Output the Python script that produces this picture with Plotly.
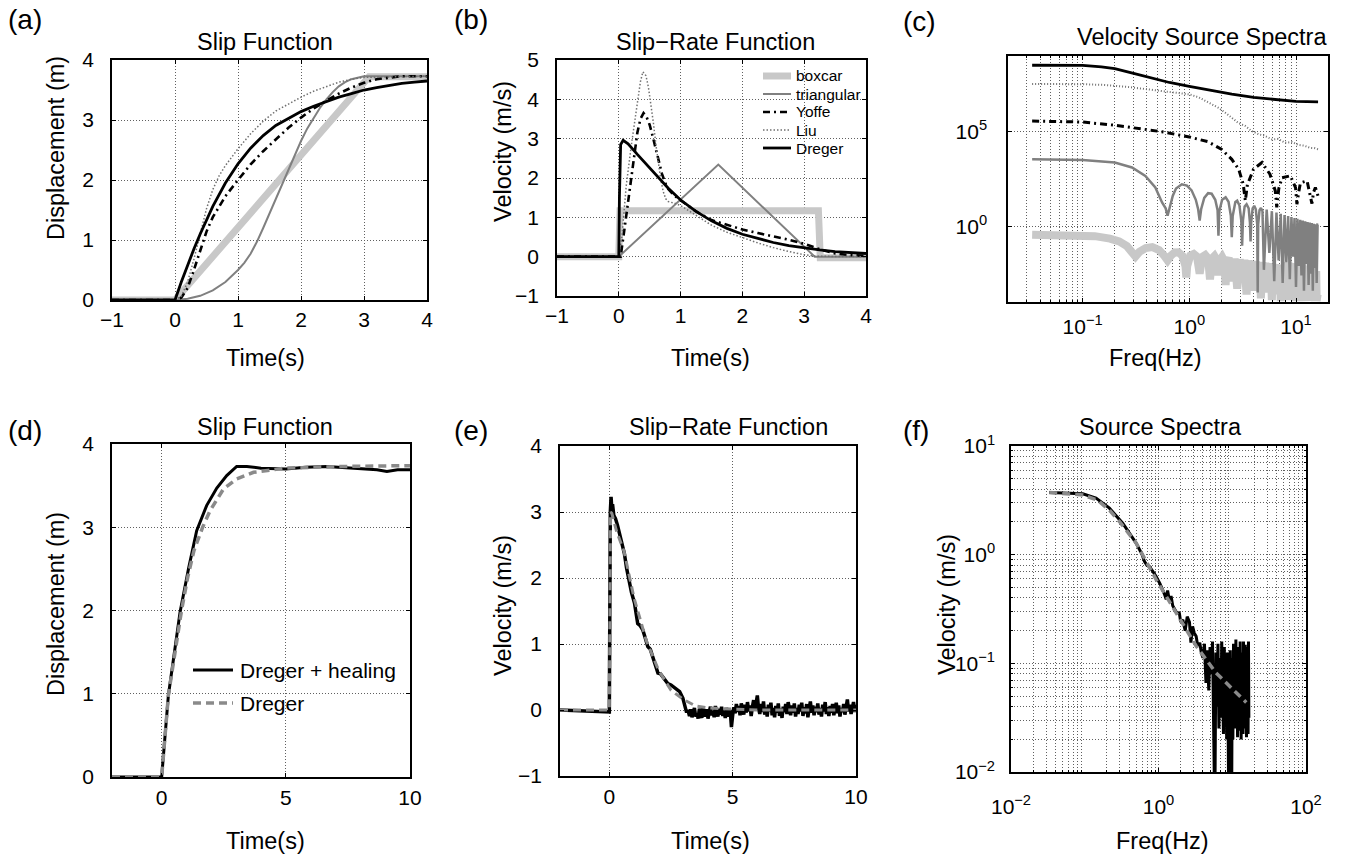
import numpy as np
import plotly.graph_objects as go

W, H = 1345, 859
FONT = "Liberation Sans, Arial, Helvetica, sans-serif"

# ---------------- (a) slip functions ----------------
a_box_t = [-1, 0, 3.08, 4]
a_box_y = [0, 0, 3.72, 3.72]
a_tri_t = [-1, 0, 0.2, 0.4, 0.6, 0.8, 1.0, 1.1, 1.2, 1.3, 1.4, 1.5, 1.6, 1.7, 1.8, 1.9, 2.0, 2.1, 2.2, 2.3, 2.4, 2.5, 2.6, 2.7, 2.8, 2.9, 3.0, 3.1, 4]
a_tri_y = [0, 0, 0.02, 0.07, 0.16, 0.30, 0.50, 0.62, 0.77, 0.97, 1.20, 1.44, 1.69, 1.94, 2.19, 2.43, 2.65, 2.86, 3.04, 3.20, 3.34, 3.46, 3.56, 3.63, 3.68, 3.71, 3.73, 3.73, 3.73]
a_yof_t = [-1, 0, 0.1, 0.2, 0.3, 0.4, 0.5, 0.6, 0.8, 1.0, 1.2, 1.4, 1.6, 1.8, 2.0, 2.2, 2.4, 2.6, 2.8, 3.0, 3.2, 3.4, 3.6, 4]
a_yof_y = [0, 0, 0.04, 0.2, 0.5, 0.84, 1.14, 1.38, 1.73, 2.0, 2.26, 2.48, 2.68, 2.87, 3.04, 3.19, 3.32, 3.44, 3.54, 3.62, 3.68, 3.71, 3.73, 3.73]
a_liu_t = [-1, 0, 0.1, 0.2, 0.3, 0.4, 0.5, 0.6, 0.7, 0.8, 1.0, 1.2, 1.4, 1.6, 1.8, 2.0, 2.2, 2.4, 2.6, 2.8, 3.0, 4]
a_liu_y = [0, 0, 0.06, 0.3, 0.68, 1.1, 1.52, 1.84, 2.07, 2.24, 2.52, 2.77, 2.98, 3.15, 3.27, 3.38, 3.48, 3.56, 3.63, 3.68, 3.71, 3.73]
a_dre_t = [-1, 0, 0.1, 0.2, 0.3, 0.4, 0.5, 0.6, 0.8, 1.0, 1.2, 1.4, 1.6, 1.8, 2.0, 2.2, 2.4, 2.6, 2.8, 3.0, 3.2, 3.4, 3.6, 3.8, 4.0]
a_dre_y = [0, 0, 0.3, 0.58, 0.85, 1.1, 1.34, 1.56, 1.95, 2.27, 2.53, 2.74, 2.91, 3.03, 3.14, 3.23, 3.31, 3.38, 3.44, 3.5, 3.54, 3.58, 3.61, 3.63, 3.65]

# ---------------- (b) slip-rate functions ----------------
b_names = ["boxcar", "triangular", "Yoffe", "Liu", "Dreger"]
b_box_t = [-1, 0, 0.02, 3.23, 3.26, 4]
b_box_y = [0, 0, 1.17, 1.17, -0.03, -0.03]
b_tri_t = [-1, 0, 1.61, 3.17, 4]
b_tri_y = [0, 0, 2.34, 0, 0]
b_yof_t = [-1, 0, 0.03, 0.1, 0.15, 0.2, 0.25, 0.3, 0.35, 0.4, 0.45, 0.5, 0.55, 0.6, 0.65, 0.7, 0.75, 0.8, 0.9, 1.0, 1.25, 1.5, 1.75, 2.0, 2.25, 2.5, 2.75, 3.0, 3.25, 3.5, 3.75, 4]
b_yof_y = [0, 0, 0, 0.8, 1.4, 2.0, 2.6, 3.15, 3.5, 3.65, 3.55, 3.35, 3.05, 2.75, 2.4, 2.1, 1.88, 1.72, 1.55, 1.43, 1.15, 0.93, 0.8, 0.69, 0.6, 0.52, 0.43, 0.33, 0.19, 0.08, 0.04, 0.02]
b_liu_t = [-1, 0, 0.05, 0.12, 0.2, 0.3, 0.35, 0.39, 0.44, 0.48, 0.52, 0.56, 0.6, 0.64, 0.68, 0.72, 0.76, 0.8, 0.9, 1.0, 1.25, 1.5, 1.75, 2.0, 2.25, 2.5, 2.75, 3.0, 3.2, 4]
b_liu_y = [0, 0, 0.5, 1.8, 2.8, 3.95, 4.45, 4.7, 4.6, 4.3, 3.9, 3.4, 2.85, 2.35, 1.95, 1.65, 1.47, 1.4, 1.36, 1.3, 1.05, 0.8, 0.62, 0.48, 0.35, 0.23, 0.13, 0.05, 0.01, 0]
b_dre_t = [-1, 0, 0.01, 0.03, 0.07, 0.15, 0.3, 0.45, 0.6, 0.8, 1.0, 1.25, 1.5, 1.75, 2.0, 2.25, 2.5, 2.75, 3.0, 3.25, 3.5, 3.75, 4.0]
b_dre_y = [0, 0, 1.5, 2.85, 2.96, 2.87, 2.6, 2.34, 2.1, 1.74, 1.44, 1.15, 0.91, 0.72, 0.57, 0.46, 0.36, 0.28, 0.22, 0.17, 0.13, 0.1, 0.08]

# ---------------- (c) velocity source spectra (log10 of amplitude) ----------------
c_dre_f = [0.0336, 0.06, 0.1, 0.15, 0.2, 0.3, 0.45, 0.65, 1.0, 1.6, 2.5, 4, 6.5, 10, 16.1]
c_dre_log = [8.51, 8.51, 8.50, 8.43, 8.33, 8.08, 7.83, 7.60, 7.40, 7.17, 6.98, 6.81, 6.68, 6.60, 6.58]
c_liu_f = [0.0336, 0.06, 0.1, 0.16, 0.25, 0.42, 0.6, 0.8, 1.0, 1.22, 1.5, 1.88, 2.2, 2.5, 2.9, 3.35, 3.8, 4.47, 5.0, 5.96, 6.8, 7.9, 9.2, 10.5, 12, 13.5, 15, 16.1]
c_liu_log = [7.52, 7.52, 7.51, 7.47, 7.38, 7.23, 7.13, 7.05, 6.97, 6.82, 6.56, 6.26, 5.98, 5.74, 5.45, 5.30, 5.05, 4.86, 4.80, 4.59, 4.62, 4.42, 4.45, 4.30, 4.26, 4.15, 4.13, 4.07]
c_yof_f = [0.0336, 0.1, 0.2, 0.34, 0.55, 1.0, 1.5, 2.0, 2.5, 2.9, 3.2, 3.35, 3.5, 4.0, 4.8, 5.7, 6.4, 6.6, 6.9, 7.4, 8.85, 9.9, 10.2, 10.6, 11, 12.7, 13.6, 14.1, 14.6, 15.2, 16.1]
c_yof_log = [5.56, 5.51, 5.34, 5.15, 5.0, 4.72, 4.47, 4.07, 3.54, 3.02, 2.23, 1.35, 2.2, 3.02, 3.37, 2.75, 1.87, 1.0, 2.0, 2.57, 2.67, 2.05, 1.17, 1.8, 2.3, 2.4, 1.72, 1.2, 1.8, 2.05, 1.6]
c_tri_f = [0.0336, 0.1, 0.2, 0.29, 0.387, 0.48, 0.555, 0.6, 0.625, 0.65, 0.7, 0.75, 0.85, 0.95, 1.05, 1.15, 1.21, 1.25, 1.29, 1.38, 1.5, 1.62, 1.75, 1.84, 1.875, 1.91, 2.03, 2.19, 2.33, 2.45, 2.5, 2.55, 2.7, 2.81, 2.95, 3.07, 3.125, 3.18, 3.3, 3.44, 3.6, 3.7, 3.75, 3.8, 3.92, 4.06, 4.2, 4.33, 4.375, 4.42, 4.55, 4.69, 4.85, 5.0,
           5.31, 5.625, 5.94, 6.25, 6.56, 6.875, 7.19, 7.5, 7.81, 8.125, 8.44, 8.75, 9.06, 9.375, 9.69, 10.0, 10.31, 10.625, 10.94, 11.25, 11.56, 11.875, 12.19, 12.5, 12.81, 13.125, 13.44, 13.75, 14.06, 14.375, 14.69, 15.0, 15.31, 15.625, 15.94, 16.1]
c_tri_log = [3.54, 3.50, 3.37, 3.11, 2.66, 2.05, 1.26, 0.95, 0.56, 0.95, 1.62, 2.0, 2.22, 2.15, 1.9, 1.4, 0.9, 0.3, 0.9, 1.5, 1.75, 1.72, 1.4, 0.85, -0.5, 0.8, 1.4, 1.53, 1.3, 0.55, -0.58, 0.55, 1.28, 1.35, 1.1, 0.3, -1.02, 0.3, 1.05, 1.17, 0.95, 0.2, -0.8, 0.2, 0.95, 1.08, 0.9, 0.1, -3.5, 0.1, 0.85, 0.97, 0.8, -2.3,
             0.88, -1.4, 0.8, -2.9, 0.73, -1.8, 0.66, -3.0, 0.6, -1.9, 0.54, -2.8, 0.49, -1.6, 0.44, -3.2, 0.4, -2.1, 0.35, -2.6, 0.31, -3.4, 0.27, -2.0, 0.23, -3.1, 0.2, -2.5, 0.17, -3.4, 0.14, -2.2, 0.11, -3.0, 0.08, 0.07]
c_box_f = [0.0336, 0.08, 0.13, 0.18, 0.22, 0.26, 0.29, 0.3125, 0.34, 0.39, 0.45, 0.52, 0.58, 0.625, 0.67, 0.73, 0.79, 0.86, 0.92, 0.9375, 0.955, 1.02, 1.1, 1.18, 1.25, 1.32, 1.41, 1.5, 1.5625, 1.63, 1.72, 1.82, 1.875, 1.93, 2.03, 2.13, 2.1875, 2.25, 2.34, 2.5, 2.66, 2.8125, 2.97, 3.125, 3.28, 3.4375, 3.59, 3.75, 3.9, 4.0625, 4.22, 4.375, 4.53, 4.6875, 4.84, 5.0, 5.16, 5.3125, 5.47, 5.625, 5.78, 5.9375, 6.09, 6.25, 6.41, 6.5625, 6.72, 6.875, 7.03, 7.1875, 7.34, 7.5, 7.66, 7.8125, 7.97, 8.125, 8.28, 8.4375, 8.59, 8.75, 8.91, 9.0625, 9.22, 9.375, 9.53, 9.6875, 9.84, 10.0, 10.16, 10.3125, 10.47, 10.625, 10.78, 10.9375, 11.09, 11.25, 11.41, 11.5625, 11.72, 11.875, 12.03, 12.1875, 12.34, 12.5, 12.66, 12.8125, 12.97, 13.125, 13.28, 13.4375, 13.59, 13.75, 13.91, 14.0625, 14.22, 14.375, 14.53, 14.6875, 14.84, 15.0, 15.16, 15.3125, 15.47, 15.625, 15.78, 15.94]
c_box_log = [-0.44, -0.46, -0.52, -0.65, -0.8, -1.05, -1.35, -1.6, -1.35, -1.15, -1.1, -1.25, -1.55, -1.8, -1.55, -1.38, -1.37, -1.55, -2.1, -2.7, -2.1, -1.55, -1.46, -1.6, -2.5, -1.62, -1.52, -1.7, -2.8, -1.7, -1.57, -1.8, -2.6, -1.8, -1.62, -1.85, -3.1, -1.85, -1.66, -2.9, -1.7, -3.3, -1.74, -2.7, -1.77, -3.6, -1.8, -3.0, -1.83, -3.4, -1.86, -2.9, -1.88, -3.8, -1.9, -3.2, -1.92, -3.5, -1.95, -3.0, -1.97, -3.9, -1.99, -3.3, -2.0, -3.6, -2.02, -3.1, -2.04, -3.95, -2.06, -3.4, -2.07, -3.7, -2.09, -3.2, -2.1, -3.9, -2.12, -3.5, -2.13, -3.1, -2.15, -3.8, -2.16, -3.4, -2.18, -3.95, -2.19, -3.3, -2.2, -3.7, -2.22, -3.5, -2.23, -3.95, -2.24, -3.2, -2.25, -3.8, -2.26, -3.5, -2.27, -3.95, -2.28, -3.4, -2.29, -3.9, -2.3, -3.6, -2.31, -3.95, -2.32, -3.3, -2.33, -3.9, -2.34, -3.7, -2.35, -3.95, -2.36, -3.5, -2.37, -3.95, -2.38, -3.6]

# ---------------- (d) slip with healing ----------------
d_names = ["Dreger + healing", "Dreger"]
d_heal_t = [-2, 0, 0.27, 0.54, 0.74, 1.08, 1.41, 1.81, 2.22, 2.62, 3.02, 3.43, 4.0, 5.0, 5.8, 6.65, 7.5, 8.2, 8.67, 9.07, 9.5, 10]
d_heal_y = [0, 0, 0.98, 1.54, 1.98, 2.5, 2.96, 3.26, 3.47, 3.62, 3.73, 3.73, 3.71, 3.70, 3.72, 3.73, 3.71, 3.70, 3.69, 3.67, 3.69, 3.69]
d_dre_t = [-2, 0, 0.27, 0.55, 0.8, 1.05, 1.3, 1.65, 1.95, 2.49, 3.02, 3.7, 4.37, 5.0, 7.3, 10]
d_dre_y = [0, 0, 0.98, 1.52, 2.0, 2.4, 2.72, 3.0, 3.2, 3.46, 3.58, 3.66, 3.69, 3.71, 3.73, 3.74]

# ---------------- (e) slip rate with healing ----------------
e_heal_t = [-2, 0, 0.04, 0.07, 0.1, 0.13, 0.18, 0.25, 0.33, 0.4, 0.47, 0.54, 0.61, 0.7, 0.81, 0.9, 1.02, 1.1, 1.15, 1.25, 1.36, 1.45, 1.56, 1.66, 1.76, 1.86, 1.97, 2.07, 2.17, 2.27, 2.37, 2.5, 2.64, 2.75, 2.85, 2.98, 3.05, 3.12,
            3.20, 3.25, 3.30, 3.35, 3.40, 3.45, 3.50, 3.55, 3.60, 3.65, 3.70, 3.75, 3.80, 3.85, 3.90, 3.95,
            4.00, 4.05, 4.10, 4.15, 4.20, 4.25, 4.30, 4.35, 4.40, 4.45, 4.50, 4.55, 4.60, 4.65, 4.70, 4.75, 4.80, 4.85, 4.90, 4.95,
            5.00, 5.05, 5.10, 5.15, 5.20, 5.25, 5.30, 5.35, 5.40, 5.45, 5.50, 5.55, 5.60, 5.65, 5.70, 5.75, 5.80, 5.85, 5.90, 5.95,
            6.00, 6.05, 6.10, 6.15, 6.20, 6.25, 6.30, 6.35, 6.40, 6.45, 6.50, 6.55, 6.60, 6.65, 6.70, 6.75, 6.80, 6.85, 6.90, 6.95,
            7.00, 7.05, 7.10, 7.15, 7.20, 7.25, 7.30, 7.35, 7.40, 7.45, 7.50, 7.55, 7.60, 7.65, 7.70, 7.75, 7.80, 7.85, 7.90, 7.95,
            8.00, 8.05, 8.10, 8.15, 8.20, 8.25, 8.30, 8.35, 8.40, 8.45, 8.50, 8.55, 8.60, 8.65, 8.70, 8.75, 8.80, 8.85, 8.90, 8.95,
            9.00, 9.05, 9.10, 9.15, 9.20, 9.25, 9.30, 9.35, 9.40, 9.45, 9.50, 9.55, 9.60, 9.65, 9.70, 9.75, 9.80, 9.85, 9.90, 9.95, 10.00]
e_heal_v = [0, -0.03, 3.0, 3.23, 3.05, 3.12, 2.95, 2.9, 2.8, 2.68, 2.62, 2.45, 2.37, 2.15, 1.92, 1.78, 1.62, 1.45, 1.31, 1.28, 1.21, 1.1, 0.96, 0.92, 0.81, 0.68, 0.56, 0.55, 0.5, 0.45, 0.4, 0.38, 0.34, 0.3, 0.28, 0.18, 0.06, -0.02,
            -0.02, -0.09, 0.01, -0.11, -0.04, 0.03, -0.1, -0.06, -0.13, 0.02, -0.07, -0.12, 0.04, -0.05, -0.1, 0.01,
            -0.13, -0.03, 0.05, -0.08, -0.02, -0.11, 0.06, -0.04, -0.1, 0.02, -0.07, 0.05, -0.09, -0.01, -0.12, 0.03, -0.06, -0.1, 0.0, -0.26,
            -0.08, 0.04, -0.05, 0.09, -0.03, 0.06, -0.08, 0.1, 0.0, -0.07, 0.08, -0.04, 0.12, -0.02, 0.07, -0.09, 0.05, 0.15, -0.01, 0.1,
            0.22, 0.02, -0.06, 0.09, -0.03, 0.13, -0.07, 0.04, -0.1, 0.08, -0.02, 0.11, -0.08, 0.03, -0.11, 0.06, -0.04, 0.1, -0.09, 0.02,
            -0.12, 0.05, -0.03, 0.09, -0.06, 0.12, 0.0, -0.08, 0.07, -0.04, 0.1, -0.1, 0.03, -0.06, 0.08, -0.02, 0.11, -0.09, 0.04, -0.05,
            0.09, -0.11, 0.02, 0.13, -0.04, 0.07, -0.08, 0.05, -0.03, 0.1, -0.07, 0.03, -0.1, 0.08, -0.02, 0.12, -0.06, 0.04, -0.09, 0.06,
            -0.04, 0.09, -0.08, 0.02, 0.11, -0.05, 0.07, -0.1, 0.03, -0.03, 0.09, -0.07, 0.05, 0.16, -0.02, 0.08, -0.06, 0.04, 0.12, -0.03, 0.08]
e_dre_t = [-2, 0, 0.05, 0.1, 0.3, 0.6, 1.0, 1.5, 2.0, 2.5, 3.0, 3.5, 4.0, 4.5, 5, 6, 7, 8, 9, 10]
e_dre_v = [0, 0, 3.0, 2.98, 2.7, 2.4, 1.7, 1.05, 0.6, 0.3, 0.16, 0.06, 0.03, 0.02, 0.01, 0.0, 0.0, 0.0, 0.0, 0.0]

# ---------------- (f) source spectra (log10 of amplitude) ----------------
f_heal_f = [0.033, 0.094, 0.142, 0.216, 0.327, 0.497, 0.6, 0.644, 0.70, 0.753, 0.85, 0.93, 1.05, 1.14, 1.2, 1.27, 1.33, 1.4, 1.48, 1.56, 1.65, 1.75, 1.92, 2.0, 2.14, 2.3, 2.45, 2.63, 2.75, 2.9, 3.05, 3.24, 3.4, 3.63, 3.8,
            4.0, 4.2, 4.4, 4.6, 4.8, 5.0, 5.2, 5.4, 5.6, 5.8, 6.0, 6.2, 6.4, 6.6, 6.8, 7.0, 7.2, 7.4, 7.6, 7.8, 8.0, 8.2, 8.4, 8.6, 8.8, 9.0, 9.2, 9.4, 9.6, 9.8, 10.0, 10.2, 10.4, 10.6, 10.8, 11.0, 11.2, 11.4, 11.6, 11.8, 12.0, 12.2, 12.4, 12.6, 12.8, 13.0, 13.2, 13.4, 13.6, 13.8, 14.0, 14.2, 14.4, 14.6, 14.8, 15.0, 15.2, 15.4, 15.6, 15.8, 16.0, 16.2, 16.4, 16.6, 16.8]
f_heal_log = [0.572, 0.56, 0.52, 0.428, 0.29, 0.107, 0.0, -0.062, -0.1, -0.108, -0.16, -0.2, -0.27, -0.32, -0.36, -0.41, -0.33, -0.42, -0.38, -0.47, -0.5, -0.53, -0.54, -0.62, -0.6, -0.7, -0.57, -0.62, -0.81, -0.66, -0.72, -0.75, -0.84, -0.81, -0.9,
              -0.95, -0.82, -1.18, -0.88, -1.25, -0.85, -1.1, -0.8, -1.35, -2.4, -0.9, -1.4, -0.82, -1.6, -0.95, -1.5, -0.8, -1.3, -1.65, -0.85, -1.45, -1.0, -1.7, -0.9, -1.55, -2.4, -1.1, -0.88, -1.6, -2.4, -0.95, -1.7, -0.82, -1.4, -1.05, -1.6, -0.78, -1.5, -1.2, -1.68, -0.85, -1.45, -1.0, -1.62, -0.8, -1.35, -1.7, -0.9, -1.5, -1.1, -1.65, -0.8, -1.4, -1.0, -1.6, -0.83, -1.55, -1.1, -1.68, -0.85, -1.5, -1.2, -1.65, -0.8, -1.5]
f_dre_f = [0.033, 0.094, 0.15, 0.216, 0.3, 0.497, 0.93, 1.74, 3.24, 6.0, 15.5]
f_dre_log = [0.572, 0.55, 0.5, 0.41, 0.3, 0.107, -0.23, -0.54, -0.84, -1.087, -1.36]

# ---------------- helpers ----------------
def pxx(p):
    return p / W

def pxy(p):
    return 1 - p / H

GRIDC = "#606060"
GDASH = "1px,2px"
COMMON = dict(showline=True, linecolor="black", linewidth=1.5, mirror="ticks", ticks="inside",
              ticklen=4, tickwidth=1, tickcolor="black", zeroline=False, automargin=False,
              showgrid=True, gridcolor=GRIDC, griddash=GDASH, gridwidth=1,
              tickfont=dict(family=FONT, size=21, color="black"))

def lin_axis(xd, anchor, rng, tv, standoff):
    return dict(domain=xd, anchor=anchor, range=rng, tickmode="array", tickvals=tv,
                ticklabelstandoff=standoff, **COMMON)

def sup(e):
    s = str(e).replace("-", "\u2212")
    return "10<sup>" + s + "</sup>"

def minors(lo, hi):
    out = []
    for d in range(lo, hi):
        for m in range(2, 10):
            out.append(m * 10.0 ** d)
    return out

fig = go.Figure()

def line(x, y, xa, ya, color, width, dash="solid"):
    fig.add_trace(go.Scatter(x=x, y=y, xaxis=xa, yaxis=ya, mode="lines",
                             line=dict(color=color, width=width, dash=dash),
                             showlegend=False, hoverinfo="skip"))

LG = "#c8c8c8"
GR = "#808080"
LIU = "#707070"
DG = "#8a8a8a"
DASHDOT = "7px,4px,2px,4px"
DOT = "1.5px,2px"
DASH = "8px,5px"

# (a)
line(a_box_t, a_box_y, "x", "y", LG, 7)
line(a_tri_t, a_tri_y, "x", "y", GR, 2)
line(a_yof_t, a_yof_y, "x", "y", "black", 2.6, DASHDOT)
line(a_liu_t, a_liu_y, "x", "y", LIU, 1.5, DOT)
line(a_dre_t, a_dre_y, "x", "y", "black", 2.8)
# (b)
b_styles = [(LG, 7, "solid"), (GR, 2, "solid"), ("black", 2.6, DASHDOT), (LIU, 1.5, DOT), ("black", 2.8, "solid")]
for (xs, ys), (c, w, d) in zip([(b_box_t, b_box_y), (b_tri_t, b_tri_y), (b_yof_t, b_yof_y), (b_liu_t, b_liu_y), (b_dre_t, b_dre_y)], b_styles):
    line(xs, ys, "x2", "y2", c, w, d)
# (c)
line(c_box_f, np.power(10.0, c_box_log), "x3", "y3", LG, 8)
line(c_tri_f, np.power(10.0, c_tri_log), "x3", "y3", GR, 2.5)
line(c_yof_f, np.power(10.0, c_yof_log), "x3", "y3", "black", 3, DASHDOT)
line(c_liu_f, np.power(10.0, c_liu_log), "x3", "y3", LIU, 2, "1px,2px")
line(c_dre_f, np.power(10.0, c_dre_log), "x3", "y3", "black", 2.8)
# (d)
line(d_heal_t, d_heal_y, "x4", "y4", "black", 3)
line(d_dre_t, d_dre_y, "x4", "y4", DG, 3.5, DASH)
# (e)
line(e_heal_t, e_heal_v, "x5", "y5", "black", 3.5)
line(e_dre_t, e_dre_v, "x5", "y5", DG, 3, DASH)
# (f)
line(f_heal_f, np.power(10.0, f_heal_log), "x6", "y6", "black", 3)
line(f_dre_f, np.power(10.0, f_dre_log), "x6", "y6", DG, 3.5, DASH)

# ---------------- axes ----------------
lay = {}
lay["xaxis"] = lin_axis([pxx(112), pxx(427)], "y", [-1, 4], [-1, 0, 1, 2, 3, 4], 0)
lay["yaxis"] = lin_axis([pxy(300), pxy(60)], "x", [0, 4], [0, 1, 2, 3, 4], 12)
lay["xaxis2"] = lin_axis([pxx(557), pxx(866)], "y2", [-1, 4], [-1, 0, 1, 2, 3, 4], 0)
lay["yaxis2"] = lin_axis([pxy(296), pxy(60)], "x2", [-1, 5], [-1, 0, 1, 2, 3, 4, 5], 12)
lay["xaxis4"] = lin_axis([pxx(112), pxx(410)], "y4", [-2, 10], [0, 5, 10], 1)
lay["yaxis4"] = lin_axis([pxy(777), pxy(444)], "x4", [0, 4], [0, 1, 2, 3, 4], 12)
lay["xaxis5"] = lin_axis([pxx(560), pxx(856)], "y5", [-2, 10], [0, 5, 10], 1)
lay["yaxis5"] = lin_axis([pxy(776), pxy(446)], "x5", [-1, 4], [-1, 0, 1, 2, 3, 4], 12)

MINOR = dict(showgrid=True, gridcolor=GRIDC, griddash=GDASH, gridwidth=1,
             ticks="inside", ticklen=2, tickcolor="black")

lay["xaxis3"] = dict(domain=[pxx(1008), pxx(1328)], anchor="y3", type="log", range=[-1.7, 1.3],
                     tickmode="array", tickvals=[0.1, 1, 10], ticktext=[sup(-1), sup(0), sup(1)],
                     minor=dict(tickmode="array", tickvals=minors(-2, 2), **MINOR),
                     ticklabelstandoff=5, **COMMON)
lay["yaxis3"] = dict(domain=[pxy(302), pxy(56)], anchor="x3", type="log", range=[-4, 9],
                     tickmode="array", tickvals=[1, 1e5], ticktext=[sup(0), sup(5)],
                     ticklabelstandoff=15, **COMMON)
lay["xaxis6"] = dict(domain=[pxx(1011), pxx(1306)], anchor="y6", type="log", range=[-2, 2],
                     tickmode="array", tickvals=[0.01, 1, 100], ticktext=[sup(-2), sup(0), sup(2)],
                     minor=dict(tickmode="array", tickvals=minors(-2, 2), **MINOR),
                     ticklabelstandoff=15, **COMMON)
lay["yaxis6"] = dict(domain=[pxy(772), pxy(446)], anchor="x6", type="log", range=[-2, 1],
                     tickmode="array", tickvals=[0.01, 0.1, 1, 10], ticktext=[sup(-2), sup(-1), sup(0), sup(1)],
                     minor=dict(tickmode="array", tickvals=minors(-2, 1), **MINOR),
                     ticklabelstandoff=10, **COMMON)

# ---------------- text ----------------
anns = []
shapes = []

def ann(text, x, y, size, angle=0, xanchor="center", yanchor="middle"):
    anns.append(dict(text=text, x=pxx(x), y=pxy(y), xref="paper", yref="paper", showarrow=False,
                     font=dict(family=FONT, size=size, color="black"), textangle=angle,
                     xanchor=xanchor, yanchor=yanchor))

for lab, x, y in [("(a)", 6, 20), ("(b)", 452, 20), ("(c)", 901, 22), ("(d)", 6, 430), ("(e)", 452, 430), ("(f)", 901, 430)]:
    ann(lab, x, y, 28, xanchor="left")

TS = 23.5
ann("Slip Function", 265, 42, TS)
ann("Slip\u2212Rate Function", 715, 42, TS)
ann("Velocity Source Spectra", 1202, 37, TS)
ann("Slip Function", 265, 427, TS)
ann("Slip\u2212Rate Function", 728, 427, TS)
ann("Source Spectra", 1160, 427, TS)

ann("Time(s)", 265, 358, TS)
ann("Time(s)", 711, 358, TS)
ann("Freq(Hz)", 1155, 358, TS)
ann("Time(s)", 265, 841, TS)
ann("Time(s)", 711, 841, TS)
ann("Freq(Hz)", 1162, 841, TS)

ann("Displacement (m)", 56, 148, TS, angle=-90)
ann("Velocity (m/s)", 503, 152, TS, angle=-90)
ann("Displacement (m)", 56, 604, TS, angle=-90)
ann("Velocity (m/s)", 503, 606, TS, angle=-90)
ann("Velocity (m/s)", 947, 605, TS, angle=-90)

# legend of (b)
for i, (nm, (c, w, d)) in enumerate(zip(b_names, b_styles)):
    yy = 76 + 18 * i
    shapes.append(dict(type="line", xref="paper", yref="paper", x0=pxx(763), x1=pxx(791), y0=pxy(yy), y1=pxy(yy),
                       line=dict(color=c, width=w, dash=d)))
    ann(nm, 794, yy, 15.5, xanchor="left")

# legend of (d)
for i, (nm, (c, w, d)) in enumerate(zip(d_names, [("black", 3, "solid"), (DG, 3.5, DASH)])):
    yy = 670 + 33 * i
    shapes.append(dict(type="line", xref="paper", yref="paper", x0=pxx(193), x1=pxx(233), y0=pxy(yy), y1=pxy(yy),
                       line=dict(color=c, width=w, dash=d)))
    ann(nm, 238, yy, 21, xanchor="left")

fig.update_layout(
    width=W, height=H, margin=dict(l=0, r=0, t=0, b=0, pad=0, autoexpand=False),
    paper_bgcolor="white", plot_bgcolor="white",
    font=dict(family=FONT, color="black"),
    annotations=anns, shapes=shapes,
    showlegend=False,
    **lay,
)

fig.write_html("out.html")
